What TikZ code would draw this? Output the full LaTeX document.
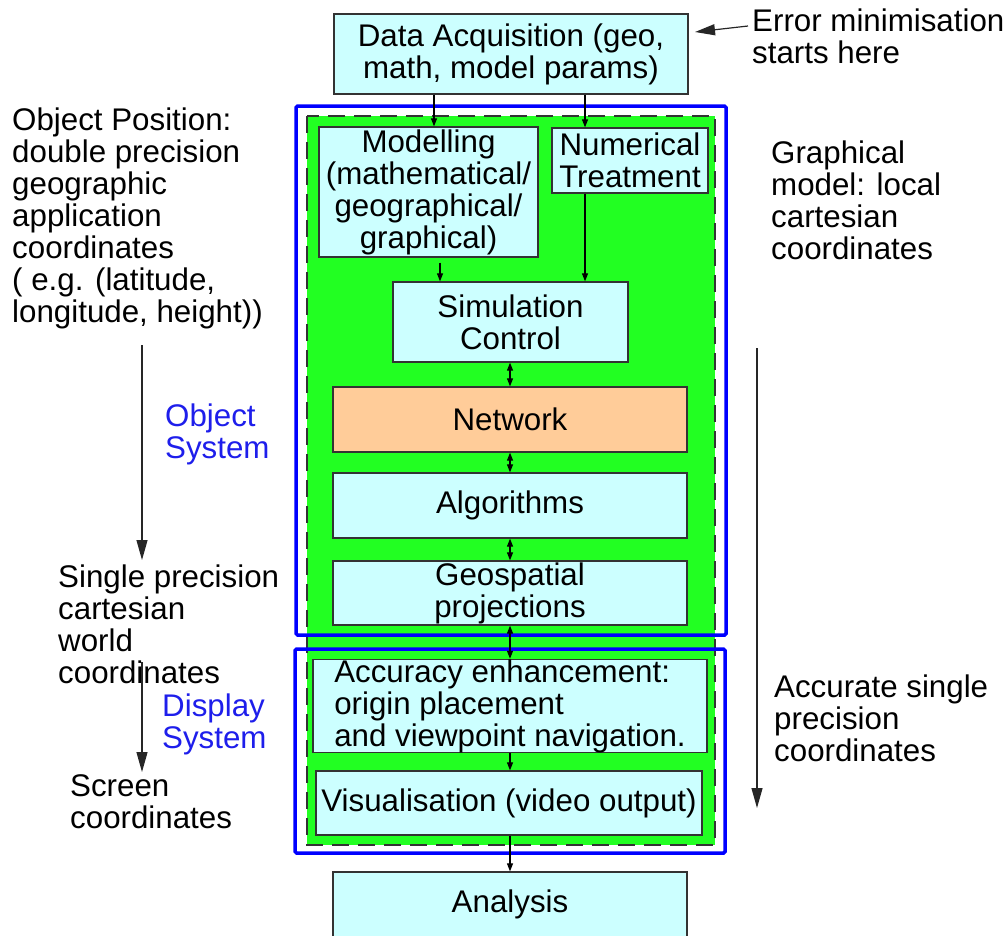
\documentclass[tikz,border=0pt]{standalone}
\usepackage{fontspec}
\setmainfont{Liberation Sans}
\usetikzlibrary{arrows.meta}
\definecolor{grn}{RGB}{34,255,34}
\definecolor{cyanfill}{RGB}{204,255,255}
\definecolor{peach}{RGB}{255,204,153}
\definecolor{sysblue}{RGB}{0,0,255}
\definecolor{lblblue}{RGB}{30,30,235}
\definecolor{edge}{RGB}{51,51,51}
\begin{document}
\begin{tikzpicture}[x=1pt,y=-1pt,
  every node/.style={font=\fontsize{31.3}{32}\selectfont, inner sep=0pt, text=black},
  blk/.style={draw=edge, line width=1.3pt, fill=cyanfill, align=center},
  lbl/.style={align=left, anchor=base west},
  sm/.style={-{Triangle[length=8pt,width=6pt]}, line width=1.1pt, draw=black},
  dbl/.style={{Triangle[length=8pt,width=6pt]}-{Triangle[length=8pt,width=6pt]}, line width=1.1pt, draw=black},
  big/.style={-{Triangle[length=20pt,width=11pt]}, line width=1.2pt, draw=black!85},
  sysbox/.style={draw=sysblue, line width=3.5pt, rounded corners=1.5pt}
]
\useasboundingbox (0,0) rectangle (1008,935);

% green region and system frames
\fill[grn] (307,116) rectangle (715,845);
\draw[edge, line width=1.3pt, dash pattern=on 17pt off 9pt] (307,116) rectangle (715,845);
\draw[sysbox] (296,106) rectangle (726,635);
\draw[sysbox] (295,649) rectangle (725,853);

% boxes
\node[blk, minimum width=354pt, minimum height=80pt] (da) at (511,54) {Data Acquisition (geo,\\math, model params)};
\node[blk, minimum width=219pt, minimum height=130pt] (mod) at (428.5,192) {Modelling\\(mathematical/\\geographical/\\graphical)};
\node[blk, minimum width=156pt, minimum height=65pt] (num) at (630,160.5) {Numerical\\Treatment};
\node[blk, minimum width=235pt, minimum height=80pt] (sc) at (510.5,322) {Simulation\\Control};
\node[blk, fill=peach, minimum width=354pt, minimum height=65pt] (net) at (510,419.5) {Network};
\node[blk, minimum width=354pt, minimum height=65pt] (alg) at (510,505.5) {Algorithms};
\node[blk, minimum width=354pt, minimum height=64pt] (geo) at (510,593) {Geospatial\\projections};
\node[blk, align=left, minimum width=394pt, minimum height=88pt] (acc) at (510,706) {Accuracy enhancement:\\origin placement\\and viewpoint navigation.};
\node[blk, minimum width=386pt, minimum height=64pt] (vis) at (509,803) {Visualisation (video output)};
\node[blk, minimum width=354pt, minimum height=65pt] (ana) at (510,904.5) {Analysis};

% side labels (anchor = baseline of the last line)
\node[lbl] (objpos) at (12,322) {Object Position:\\double precision\\geographic\\application\\coordinates\\( e.g. (latitude,\\longitude, height))};
\node[lbl] (single) at (58,683) {Single precision\\cartesian\\world\\coordinates};
\node[lbl] (screen) at (70,828) {Screen\\coordinates};
\node[lbl, text=lblblue] (objsys) at (165,458) {Object\\System};
\node[lbl, text=lblblue] (dispsys) at (162,748) {Display\\System};
\node[lbl] (err) at (752,63) {Error minimisation\\starts here};
\node[lbl] (graph) at (771,259) {Graphical\\model: local\\cartesian\\coordinates};
\node[lbl] (accur) at (774,761) {Accurate single\\precision\\coordinates};

% x positions for connectors
\coordinate (xa) at (434,0);
\coordinate (xb) at (440,0);
\coordinate (xc) at (585,0);
\coordinate (xm) at (510,0);

% connectors in the chain
\draw[sm] (da.south -| xa) -- (mod.north -| xa);
\draw[sm] (da.south -| xc) -- (num.north -| xc);
\draw[sm, shorten <=5pt] (mod.south -| xb) -- (sc.north -| xb);
\draw[sm] (num.south -| xc) -- (sc.north -| xc);
\draw[dbl] (sc.south -| xm) -- (net.north -| xm);
\draw[dbl] (net.south -| xm) -- (alg.north -| xm);
\draw[dbl] (alg.south -| xm) -- (geo.north -| xm);
\draw[dbl] (geo.south -| xm) -- (acc.north -| xm);
\draw[sm] (acc.south -| xm) -- (vis.north -| xm);
\draw[sm] (vis.south -| xm) -- (ana.north -| xm);

% big side arrows
\coordinate (errtail) at (748,26);
\coordinate (errtip) at (695,32);
\draw[big] (errtail) -- (errtip);
\coordinate (l1s) at (142,345);
\coordinate (l1e) at (142,560);
\draw[big] (l1s) -- (l1e);
\coordinate (l2s) at (142,662);
\coordinate (l2e) at (142,772);
\draw[big] (l2s) -- (l2e);
\coordinate (r1s) at (757,348);
\coordinate (r1e) at (757,808);
\draw[big] (r1s) -- (r1e);
\end{tikzpicture}
\end{document}
